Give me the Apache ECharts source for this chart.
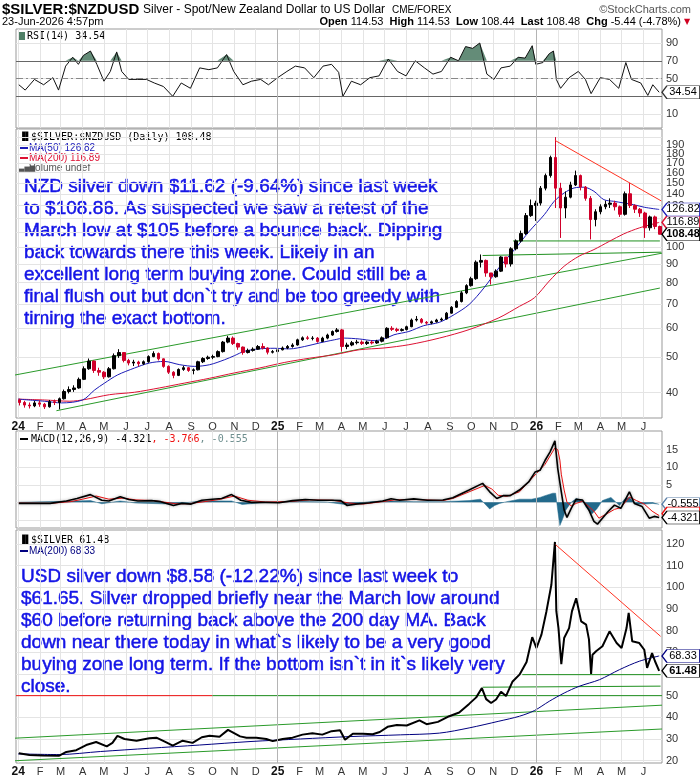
<!doctype html>
<html>
<head>
<meta charset="utf-8">
<title>$SILVER:$NZDUSD</title>
<script src="https://cdn.jsdelivr.net/npm/echarts@6.0.0/dist/echarts.min.js"></script>
<style>html,body{margin:0;padding:0;background:#fff;}</style>
</head>
<body>
<div id="chart" style="width:700px;height:780px;"></div>
<script type="text/javascript">
// ---- data ----
var weekStart = '2024-01-03';          // one candle per week (mid-week date)
var nzdFirstOpen = 38.2;
var nzdClose = [37.6,37.0,36.8,37.5,37.2,36.6,37.8,37.6,38.5,40.3,
  40.8,41.2,43.5,46.5,48.8,46.0,45.5,44.2,46.5,50.5,
  51.5,49.0,48.2,48.5,48.0,48.6,50.2,51.2,49.5,47.2,
  45.5,44.6,46.3,46.8,46.0,46.2,48.6,49.6,50.0,50.2,
  51.8,55.0,56.4,54.5,53.3,51.5,52.2,52.6,53.5,53.0,
  51.6,51.8,52.4,53.0,53.5,54.0,55.8,56.5,56.3,56.4,
  55.2,56.4,57.5,58.8,59.4,53.5,54.0,54.8,55.0,54.5,
  55.0,54.7,55.3,56.5,60.0,59.6,59.2,59.5,60.6,63.2,
  63.5,62.3,62.0,62.5,63.2,63.6,66.0,68.5,71.0,75.0,
  78.5,82.0,91.0,92.0,85.0,83.0,86.0,94.0,90.0,99.0,
  104,109,122,130,132,145,157,176,145,128,
  137,148,157,146,136,119,125,129,131,132,
  129,123,140,130,127,124,113,121,113.9,108.48];
var nzdLow = [36.9,36.4,36.2,36.5,36.6,36.1,36.4,37.0,36.0,38.3,
  39.8,40.2,41.0,43.3,46.2,45.3,44.5,43.6,44.0,46.3,
  49.8,48.4,47.5,47.3,47.2,47.6,48.3,50.0,49.0,46.8,
  45.0,43.8,44.4,45.9,45.6,44.9,46.0,48.2,49.2,49.4,
  50.0,51.5,54.6,54.0,52.4,50.8,51.2,51.8,52.4,52.5,
  50.9,51.2,51.6,52.2,52.6,53.1,53.8,55.4,55.8,55.6,
  54.8,55.0,56.0,57.2,58.4,51.8,52.6,53.6,54.2,54.0,
  54.0,54.2,54.4,54.9,56.2,59.0,58.6,58.8,59.2,60.4,
  62.6,61.8,61.4,61.5,62.2,62.8,63.4,65.8,68.2,70.6,
  74.4,78.0,81.4,88.0,83.0,79.0,82.5,85.5,88.0,88.5,
  98,103,108,121,118,130,143,155,128,106,
  120,136,147,143,134,105,114,123,127,128,
  126,121,122,128,124,121,106,111,112,108.44];
var nzdHigh = [38.5,38.0,37.6,38.0,38.1,37.5,38.2,38.3,38.8,40.8,
  41.6,41.9,44.0,47.2,49.6,49.0,46.8,45.8,47.0,51.2,
  52.6,51.6,49.5,49.2,48.9,49.0,50.6,51.9,51.5,49.6,
  47.5,45.8,46.6,47.4,47.0,46.6,48.9,50.0,50.5,50.8,
  52.2,55.4,57.2,57.0,54.8,53.5,52.8,53.2,54.0,54.6,
  53.2,52.3,52.9,53.5,54.0,54.6,56.2,57.0,57.2,57.1,
  56.8,56.9,58.0,59.2,60.1,59.8,54.8,55.4,55.8,55.6,
  55.5,55.6,55.8,57.0,60.4,60.8,60.2,60.0,61.0,63.8,
  64.8,64.0,62.8,63.0,63.7,64.2,66.5,69.0,71.6,75.8,
  79.2,83.0,92.0,95.5,92.5,85.0,87.0,94.5,94.0,100.0,
  105,111,124,135,134,147,159,178,200,150,
  142,151,162,158,147,138,127,131,134,136,
  134,130,142,150,131,128,125,122,122,114.53];

var nzdMa50 = [['2024-01-01',38.4],['2024-02-07',37.9],['2024-03-02',37.5],['2024-04-01',38.2],['2024-04-18',40.7],
  ['2024-05-02',42.5],['2024-05-20',44.7],['2024-06-13',46.7],['2024-07-04',48.2],['2024-07-25',48.7],
  ['2024-08-16',47.7],['2024-09-06',47.2],['2024-09-27',47.7],['2024-10-18',49.2],['2024-11-01',50.5],
  ['2024-11-15',51.9],['2024-12-06',52.7],['2024-12-27',52.9],['2025-01-18',52.7],['2025-02-08',53.5],
  ['2025-03-01',54.7],['2025-03-22',55.8],['2025-04-05',56.4],['2025-04-26',56.1],['2025-05-17',55.5],
  ['2025-05-31',56.1],['2025-06-14',57.6],['2025-07-05',58.8],['2025-07-26',61.0],['2025-08-17',62.3],
  ['2025-09-07',65.4],['2025-09-28',69.7],['2025-10-19',77.4],['2025-11-09',87.8],['2025-12-01',98.5],
  ['2025-12-22',110.6],['2026-01-12',122.7],['2026-01-26',133.5],['2026-02-09',140.7],['2026-02-23',145.2],
  ['2026-03-09',145.9],['2026-03-23',142.2],['2026-04-06',134.9],['2026-04-20',133.5],['2026-05-04',132.1],
  ['2026-05-18',130.7],['2026-06-02',128.6],['2026-06-23',126.82]];
var nzdMa200 = [['2024-01-01',38.4],['2024-02-07',38.2],['2024-03-14',37.9],['2024-04-04',38.3],['2024-05-09',39.5],
  ['2024-06-13',40.1],['2024-07-18',41.2],['2024-08-23',42.5],['2024-09-27',43.8],['2024-11-01',45.3],
  ['2024-12-06',46.7],['2025-01-11',48.4],['2025-02-15',49.7],['2025-03-22',50.8],['2025-04-26',52.4],
  ['2025-05-31',53.0],['2025-07-05',54.1],['2025-08-17',56.4],['2025-09-28',59.5],['2025-11-09',64.1],
  ['2025-12-08',68.9],['2025-12-29',72.7],['2026-01-19',80.8],['2026-02-09',88.7],['2026-03-02',94.5],
  ['2026-03-23',98.5],['2026-04-14',103.8],['2026-05-04',108.7],['2026-05-26',112.9],['2026-06-23',116.89]];
var nzdTrendUpper = [['2023-12-06',43.9],['2026-06-27',96.3]];
var nzdTrendLower = [['2024-02-24',35.7],['2026-06-24',77.3]];
var nzdSupportHigh = [['2025-11-29',104],['2026-06-24',104]];
var nzdSupportLow = [['2025-10-17',94.9],['2026-06-26',96.9]];
var nzdDownTrend = [['2026-01-27',196],['2026-06-26',133.8]];

var rsiData = [['2024-01-02',43],['2024-01-11',37],['2024-01-24',49],['2024-02-06',43],['2024-02-19',51],
  ['2024-02-27',37],['2024-03-08',64],['2024-03-18',74],['2024-03-26',66],['2024-04-02',76],['2024-04-12',81],
  ['2024-04-21',66],['2024-05-01',47],['2024-05-10',58],['2024-05-19',80],['2024-05-26',58],['2024-06-05',49],
  ['2024-06-17',49],['2024-06-30',49],['2024-07-11',45],['2024-07-24',41],['2024-08-06',30],['2024-08-18',45],
  ['2024-08-31',39],['2024-09-13',62],['2024-09-26',60],['2024-10-08',62],['2024-10-21',77],['2024-10-31',58],
  ['2024-11-13',43],['2024-11-25',47],['2024-12-08',49],['2024-12-19',43],['2025-01-01',51],['2025-01-14',58],
  ['2025-01-26',64],['2025-02-08',62],['2025-02-21',51],['2025-03-06',64],['2025-03-18',66],['2025-03-28',57],
  ['2025-04-03',30],['2025-04-15',47],['2025-04-28',43],['2025-05-11',51],['2025-05-24',53],['2025-06-06',72],
  ['2025-06-19',58],['2025-07-01',53],['2025-07-14',70],['2025-07-27',62],['2025-08-08',55],['2025-08-20',58],
  ['2025-09-02',74],['2025-09-13',70],['2025-09-23',86],['2025-10-03',84],['2025-10-13',90],['2025-10-23',55],
  ['2025-11-02',49],['2025-11-12',62],['2025-11-25',64],['2025-12-06',74],['2025-12-16',73],['2025-12-26',87],
  ['2025-12-31',66],['2026-01-10',68],['2026-01-19',78],['2026-01-25',81],['2026-01-29',49],['2026-02-04',39],
  ['2026-02-16',51],['2026-03-01',58],['2026-03-11',49],['2026-03-19',33],['2026-04-01',51],['2026-04-14',49],
  ['2026-04-27',39],['2026-05-07',68],['2026-05-15',49],['2026-05-28',45],['2026-06-07',31],['2026-06-14',43],
  ['2026-06-23',34.54]];

var macdData = [['2024-01-02',-0.3],['2024-02-15',-0.3],['2024-03-09',0.4],['2024-03-24',1.1],['2024-04-12',2.2],
  ['2024-04-28',0.6],['2024-05-08',0.4],['2024-05-24',1.6],['2024-06-05',0.8],['2024-06-18',0.4],['2024-07-07',0.5],
  ['2024-07-20',0.2],['2024-08-07',-0.9],['2024-08-19',-0.3],['2024-09-01',-0.5],['2024-09-16',0.6],['2024-10-01',0.9],
  ['2024-10-14',1.1],['2024-10-28',2.2],['2024-11-10',0.6],['2024-11-25',0],['2024-12-15',0],['2025-01-03',-0.1],
  ['2025-01-22',0.5],['2025-02-09',0.8],['2025-02-27',0.6],['2025-03-18',0.6],['2025-03-31',0.5],['2025-04-09',-0.9],
  ['2025-04-21',-0.5],['2025-05-11',-0.1],['2025-05-29',0.4],['2025-06-10',1.0],['2025-06-22',0.6],['2025-07-12',1.0],
  ['2025-07-31',0.6],['2025-08-22',0.65],['2025-09-05',1.3],['2025-09-28',3.5],['2025-10-17',5.4],['2025-10-27',3.0],
  ['2025-11-06',1.1],['2025-11-15',1.9],['2025-11-25',1.9],['2025-12-08',3.5],['2025-12-21',5.8],['2025-12-30',8.6],
  ['2026-01-06',9.1],['2026-01-13',11.9],['2026-01-20',14.3],['2026-01-27',17.5],['2026-01-31',9.6],['2026-02-05',3.0],
  ['2026-02-09',-2.2],['2026-02-13',-4.3],['2026-02-19',-1.7],['2026-02-26',0.9],['2026-03-07',0.65],['2026-03-16',-2.2],
  ['2026-03-23',-5.4],['2026-03-28',-6.2],['2026-04-04',-4.5],['2026-04-12',-2.6],['2026-04-21',-0.8],['2026-04-30',-1.7],
  ['2026-05-12',3.0],['2026-05-19',-0.3],['2026-05-30',-1.2],['2026-06-09',-4.5],['2026-06-16',-4.0],['2026-06-23',-4.321]];
var signalData = [['2024-01-02',-0.2],['2024-02-15',-0.3],['2024-03-15',0.2],['2024-04-01',0.9],['2024-04-20',1.8],
  ['2024-05-08',0.9],['2024-05-28',1.2],['2024-06-15',0.7],['2024-07-10',0.5],['2024-08-10',-0.4],['2024-08-28',-0.4],
  ['2024-09-20',0.2],['2024-10-10',0.8],['2024-11-01',1.8],['2024-11-20',0.6],['2024-12-15',0.1],['2025-01-15',0.2],
  ['2025-02-15',0.7],['2025-03-20',0.6],['2025-04-12',-0.2],['2025-05-01',-0.5],['2025-05-25',0.1],['2025-06-15',0.7],
  ['2025-07-15',0.8],['2025-08-22',0.5],['2025-09-05',1.1],['2025-09-28',3.0],['2025-10-20',4.8],['2025-10-30',3.8],
  ['2025-11-08',2.0],['2025-11-20',1.7],['2025-12-08',3.0],['2025-12-30',7.8],['2026-01-13',10.8],['2026-01-27',15.5],
  ['2026-01-31',15.0],['2026-02-03',12.0],['2026-02-05',8.0],['2026-02-09',3.5],['2026-02-13',0.0],['2026-02-19',-1.0],
  ['2026-02-26',-0.3],['2026-03-07',0.3],['2026-03-12',-0.5],['2026-03-23',-2.5],['2026-03-30',-4.5],['2026-04-08',-3.5],
  ['2026-04-21',-2.0],['2026-04-30',-1.5],['2026-05-12',1.5],['2026-05-22',0.5],['2026-06-02',-0.5],['2026-06-13',-2.5],
  ['2026-06-23',-3.766]];
var histData = [['2024-01-02',0],['2024-03-09',0.3],['2024-04-12',0.5],['2024-04-28',-0.4],['2024-05-24',0.4],
  ['2024-06-15',-0.2],['2024-08-07',-0.5],['2024-09-16',0.4],['2024-10-28',0.4],['2024-11-12',-0.6],['2024-12-10',-0.1],
  ['2025-01-22',0.3],['2025-03-10',0.1],['2025-04-09',-0.7],['2025-05-11',0.2],['2025-06-10',0.4],['2025-07-12',0.2],
  ['2025-08-22',0.2],['2025-09-28',0.5],['2025-10-14',0.9],['2025-10-27',-1.9],['2025-11-03',-0.9],['2025-11-10',-0.3],
  ['2025-11-20',0.2],['2025-12-08',0.9],['2025-12-25',0.9],['2026-01-06',1.4],['2026-01-13',1.9],['2026-01-24',2.6],
  ['2026-01-28',2.6],['2026-01-31',-2.3],['2026-02-03',-6.6],['2026-02-07',-4.7],['2026-02-11',-2.3],['2026-02-19',0],
  ['2026-02-26',1.1],['2026-03-07',0.5],['2026-03-12',-1.4],['2026-03-20',-3.3],['2026-03-27',-1.9],['2026-04-04',0.5],
  ['2026-04-09',0.9],['2026-04-16',1.4],['2026-04-28',-0.9],['2026-05-06',1.1],['2026-05-12',1.4],['2026-05-21',-0.5],
  ['2026-06-03',-0.5],['2026-06-14',-0.3],['2026-06-23',-0.555]];

var usdData = [['2024-01-02',23.4],['2024-01-17',22.6],['2024-02-04',22.4],['2024-02-28',22.3],['2024-03-09',24.0],
  ['2024-03-23',24.8],['2024-04-06',27.2],['2024-04-20',28.6],['2024-05-05',26.6],['2024-05-13',28.2],['2024-05-20',31.4],
  ['2024-05-30',30.0],['2024-06-16',29.2],['2024-07-04',30.3],['2024-07-14',30.6],['2024-07-28',28.4],['2024-08-06',26.9],
  ['2024-08-20',29.2],['2024-09-03',28.2],['2024-09-16',30.8],['2024-09-27',31.5],['2024-10-11',31.0],['2024-10-23',34.2],
  ['2024-11-09',31.2],['2024-11-18',30.6],['2024-12-02',30.6],['2024-12-16',30.0],['2024-12-25',29.0],['2025-01-08',30.0],
  ['2025-01-22',30.6],['2025-02-05',32.0],['2025-02-19',32.6],['2025-03-05',32.0],['2025-03-18',33.6],['2025-03-30',34.0],
  ['2025-04-06',29.6],['2025-04-17',32.4],['2025-05-01',32.4],['2025-05-15',32.2],['2025-05-25',33.2],['2025-06-05',35.6],
  ['2025-06-18',36.4],['2025-07-02',36.2],['2025-07-20',38.6],['2025-07-30',36.8],['2025-08-15',37.9],['2025-08-31',40.5],
  ['2025-09-14',42.2],['2025-09-28',46.2],['2025-10-08',49.2],['2025-10-16',53.5],['2025-10-22',48.4],['2025-10-29',46.6],
  ['2025-11-05',48.2],['2025-11-12',51.8],['2025-11-19',49.8],['2025-11-28',56.4],['2025-12-08',59.7],['2025-12-18',65.5],
  ['2025-12-26',77.0],['2026-01-01',72.0],['2026-01-08',78.2],['2026-01-15',88.9],['2026-01-22',101.2],['2026-01-27',121.0],
  ['2026-01-29',89.0],['2026-02-01',81.2],['2026-02-05',64.5],['2026-02-09',76.6],['2026-02-16',81.2],['2026-02-20',88.9],
  ['2026-02-26',95.0],['2026-03-05',84.3],['2026-03-12',82.8],['2026-03-16',76.0],['2026-03-19',60.0],['2026-03-21',68.9],
  ['2026-03-26',70.5],['2026-04-04',72.8],['2026-04-14',79.7],['2026-04-24',74.3],['2026-05-01',72.0],['2026-05-08',81.2],
  ['2026-05-11',88.2],['2026-05-16',75.1],['2026-05-26',74.3],['2026-06-02',71.2],['2026-06-06',62.8],['2026-06-13',69.7],
  ['2026-06-17',66.0],['2026-06-23',61.48]];
var usdMa200 = [['2024-01-01',23.1],['2024-02-28',22.8],['2024-04-26',24.2],['2024-07-04',25.7],['2024-09-13',27.2],
  ['2024-11-23',28.8],['2025-02-02',30.0],['2025-04-13',31.1],['2025-06-23',31.9],['2025-08-17',32.7],['2025-09-28',35.1],
  ['2025-11-09',38.2],['2025-12-08',40.5],['2025-12-29',43.1],['2026-01-19',47.4],['2026-02-09',51.2],['2026-03-02',54.3],
  ['2026-03-31',57.4],['2026-04-28',62.0],['2026-05-26',65.9],['2026-06-23',68.33]];
var usdLevelRed = [['2023-12-29',50],['2024-10-01',50]];
var usdLevel50 = [['2024-10-01',50],['2026-06-27',50]];
var usdTrendUpper = [['2023-12-06',30.0],['2026-06-27',45.6]];
var usdTrendLower = [['2023-12-06',19.6],['2026-06-27',34.6]];
var usdSupportLow = [['2025-10-17',53.9],['2026-06-25',54.4]];
var usdSupportHigh = [['2025-12-12',59.7],['2026-06-25',59.7]];
var usdDownTrend = [['2026-01-28',119.7],['2026-06-25',77.4]];

var monthLetters = ['J','F','M','A','M','J','J','A','S','O','N','D'];
var nzdTicks = [40,50,60,70,80,90,100,110,120,130,140,150,160,170,180,190,200];
var usdTicks = [20,30,40,50,60,70,80,90,100,110,120];
var rsiTicks = [10,30,50,70,90];
var macdTicks = [-5,0,5,10,15];
var macdLabels = [5,10,15];

var nzdNote = 'NZD silver down $11.62 (-9.64%) since last week\nto $108.86. As suspected we saw a retest of the\nMarch low at $105 before a bounce back. Dipping\nback towards there this week. Likely in an\nexcellent long term buying zone. Could still be a\nfinal flush out but don`t try and be too greedy with\ntiming the exact bottom.';
var usdNote = 'USD silver down $8.58 (-12.22%) since last week to\n$61.65. Silver dropped briefly near the March low around\n$60 before returning back above the 200 day MA. Back\ndown near there today in what`s likely to be a very good\nbuying zone long term. If the bottom isn`t in it`s likely very\nclose.';

// ---- helpers ----
var DAY = 86400000;
function ts(s) { var p = s.split('-'); return Date.UTC(+p[0], +p[1] - 1, +p[2]); }
function lg(v) { return Math.log10(v); }
function pts(arr) { return arr.map(function (d) { return [ts(d[0]), d[1]]; }); }
function lpts(arr) { return arr.map(function (d) { return [ts(d[0]), lg(d[1])]; }); }

var xMin = ts('2023-12-29'), xMax = ts('2026-06-27');
var monthTicks = [];
for (var yy = 2024; yy <= 2026; yy++) {
  for (var mm = 0; mm < 12; mm++) {
    var t = Date.UTC(yy, mm, 1);
    if (t >= xMin && t <= xMax) monthTicks.push(t);
  }
}
function monthFmt(v) {
  var d = new Date(v);
  var m = d.getUTCMonth();
  if (m === 0) return '{y|' + String(d.getUTCFullYear()).slice(2) + '}';
  return monthLetters[m];
}

var t0 = ts(weekStart);
var candles = nzdClose.map(function (c, i) {
  var o = i === 0 ? nzdFirstOpen : nzdClose[i - 1];
  return [t0 + i * 7 * DAY, lg(o), lg(c), lg(nzdLow[i]), lg(nzdHigh[i])];
});
// RSI part above the 70 line, filled down to 70
var rsiOver = rsiData.map(function (d) { return [ts(d[0]), Math.max(d[1], 70)]; });

function tag(y, text, border, bold) {
  return {
    coord: [xMax, y],
    symbol: 'path://M0,6 L6,0 L46,0 L46,12 L6,12 Z',
    symbolSize: [38, 13],
    symbolOffset: [19, 0],
    itemStyle: { color: '#fff', borderColor: border, borderWidth: 1 },
    label: { show: text !== '', position: 'inside', offset: [2, 0], formatter: text, color: '#000',
      fontSize: 11, fontWeight: bold ? 'bold' : 'normal', fontFamily: 'Liberation Sans' }
  };
}
function marks(list) { return { silent: true, animation: false, data: list }; }
var yearLines = {
  silent: true, symbol: 'none', animation: false, label: { show: false },
  lineStyle: { color: '#b4b4b4', width: 1, type: 'solid' },
  data: [{ xAxis: ts('2025-01-01') }, { xAxis: ts('2026-01-01') }]
};

function xAx(i, labels) {
  return {
    type: 'value', gridIndex: i, min: xMin, max: xMax,
    axisLine: { show: false },
    axisTick: { show: false, customValues: monthTicks },
    splitLine: { show: true, lineStyle: { color: '#e4e4e4', width: 1 } },
    axisLabel: { show: labels, customValues: monthTicks, formatter: monthFmt, margin: 3,
      fontSize: 11, color: '#333', fontFamily: 'Liberation Sans',
      rich: { y: { fontWeight: 'bold', fontSize: 12, color: '#111', fontFamily: 'Liberation Sans' } } }
  };
}
function yAx(i, min, max, ticks, labels, fmt) {
  return {
    type: 'value', gridIndex: i, position: 'right', min: min, max: max,
    axisLine: { show: false },
    axisTick: { show: false, customValues: ticks },
    splitLine: { show: true, lineStyle: { color: '#e4e4e4', width: 1 } },
    axisLabel: { customValues: labels, formatter: fmt, margin: 4, fontSize: 11, color: '#333', fontFamily: 'Liberation Sans' }
  };
}
function line(xi, data, color, width, extra) {
  var s = { type: 'line', xAxisIndex: xi, yAxisIndex: xi, data: data, symbol: 'none', silent: true,
    lineStyle: { color: color, width: width }, z: 3 };
  for (var k in extra) s[k] = extra[k];
  return s;
}
var noteStyle = { font: '19px "Liberation Sans"', fill: '#1414e6', stroke: '#1414e6', lineWidth: 0.5, lineHeight: 22 };

var chart = echarts.init(document.getElementById('chart'));
chart.setOption({
  animation: false,
  backgroundColor: '#fff',
  textStyle: { fontFamily: 'Liberation Sans' },
  grid: [
    { left: 16, right: 38, top: 29, height: 99, show: true, borderColor: '#999', borderWidth: 1 },
    { left: 16, right: 38, top: 129, height: 289, show: true, borderColor: '#999', borderWidth: 1 },
    { left: 16, right: 38, top: 431, height: 97, show: true, borderColor: '#999', borderWidth: 1 },
    { left: 16, right: 38, top: 530, height: 233, show: true, borderColor: '#999', borderWidth: 1 }
  ],
  xAxis: [xAx(0, false), xAx(1, true), xAx(2, false), xAx(3, true)],
  yAxis: [
    yAx(0, -5.7, 105.8, rsiTicks, rsiTicks, null),
    yAx(1, lg(34.1), lg(210.5), nzdTicks.map(lg), nzdTicks.map(lg), function (v) { return Math.round(Math.pow(10, v)); }),
    yAx(2, -7.3, 20.3, macdTicks, macdLabels, null),
    yAx(3, 18.9, 126.5, usdTicks, usdTicks, null)
  ],
  series: [
    // RSI panel
    line(0, rsiOver, 'rgba(0,0,0,0)', 0, { areaStyle: { color: '#648c78', opacity: 1, origin: 70 } }),
    line(0, pts(rsiData), '#111', 1, {
      markLine: {
        silent: true, symbol: 'none', animation: false, label: { show: false },
        data: [
          { yAxis: 70, lineStyle: { color: '#666', width: 1, type: 'solid' } },
          { yAxis: 30, lineStyle: { color: '#666', width: 1, type: 'solid' } },
          { yAxis: 50, lineStyle: { color: '#888', width: 1, type: [7, 3, 2, 3] } },
          { xAxis: ts('2025-01-01'), lineStyle: { color: '#b4b4b4', width: 1, type: 'solid' } },
          { xAxis: ts('2026-01-01'), lineStyle: { color: '#b4b4b4', width: 1, type: 'solid' } }
        ]
      },
      markPoint: marks([tag(34.54, '34.54', '#333', false)])
    }),
    // NZD price panel (log scale)
    line(1, lpts(nzdTrendUpper), '#2a9a2a', 1, { clip: false }),
    line(1, lpts(nzdTrendLower), '#2a9a2a', 1),
    line(1, lpts(nzdSupportHigh), '#1e8f1e', 1),
    line(1, lpts(nzdSupportLow), '#1e8f1e', 1),
    line(1, lpts(nzdMa200), '#dd1133', 1, { smooth: 0.3, markPoint: marks([tag(lg(116.89), '116.89', '#dd1133', false)]) }),
    line(1, lpts(nzdMa50), '#1c1cb8', 1, { smooth: 0.3, markLine: yearLines, markPoint: marks([tag(lg(126.82), '126.82', '#1c1cb8', false)]) }),
    {
      type: 'candlestick', xAxisIndex: 1, yAxisIndex: 1, data: candles, silent: true, z: 4,
      encode: { x: 0, y: [1, 2, 3, 4] },
      barWidth: 3,
      itemStyle: { color: '#000', color0: '#d0002a', borderColor: '#000', borderColor0: '#d0002a', borderWidth: 1 },
      markPoint: marks([tag(lg(108.48), '108.48', '#000', true)])
    },
    line(1, lpts(nzdDownTrend), '#ff3322', 1, { z: 5 }),
    // MACD panel
    line(2, pts(histData), '#236a8c', 0.5, { areaStyle: { color: '#236a8c', opacity: 1 }, markLine: yearLines,
      markPoint: marks([tag(-0.555, '-0.555', '#5a7fa8', false)]) }),
    line(2, pts(signalData), '#ee1111', 1, { z: 4, markPoint: marks([tag(-3.2, '', '#ee1111', false)]) }),
    line(2, pts(macdData), '#000', 1.6, { z: 5,
      lineStyle: { color: '#000', width: 1.6, shadowColor: 'rgba(0,0,0,0.35)', shadowBlur: 3 },
      markPoint: marks([tag(-4.321, '-4.321', '#000', false)]) }),
    // USD silver panel
    line(3, pts(usdLevelRed), '#ee1111', 1),
    line(3, pts(usdLevel50), '#1e8f1e', 1),
    line(3, pts(usdTrendUpper), '#2a9a2a', 1, { clip: false }),
    line(3, pts(usdTrendLower), '#2a9a2a', 1, { clip: false }),
    line(3, pts(usdSupportLow), '#1e8f1e', 1),
    line(3, pts(usdSupportHigh), '#1e8f1e', 1),
    line(3, pts(usdMa200), '#000080', 1, { smooth: 0.3, markLine: yearLines, markPoint: marks([tag(68.33, '68.33', '#000080', false)]) }),
    line(3, pts(usdData), '#000', 2, { z: 4, markPoint: marks([tag(61.48, '61.48', '#000', true)]) }),
    line(3, pts(usdDownTrend), '#ff3322', 1, { z: 5 })
  ],
  graphic: [
    { type: 'text', x: 2, y: 10, style: { text: '$SILVER:$NZDUSD', font: 'bold 15px "Liberation Sans"', fill: '#000', verticalAlign: 'middle' } },
    { type: 'text', x: 143, y: 10, style: { text: 'Silver - Spot/New Zealand Dollar to US Dollar', font: '12px "Liberation Sans"', fill: '#000', verticalAlign: 'middle' } },
    { type: 'text', x: 392, y: 10, style: { text: 'CME/FOREX', font: '10px "Liberation Sans"', fill: '#000', verticalAlign: 'middle' } },
    { type: 'text', x: 691, y: 10, style: { text: '\u00a9StockCharts.com', font: '11px "Liberation Sans"', fill: '#555', align: 'right', verticalAlign: 'middle' } },
    { type: 'text', x: 2, y: 22, style: { text: '23-Jun-2026 4:57pm', font: '11px "Liberation Sans"', fill: '#000', verticalAlign: 'middle' } },
    { type: 'text', x: 681, y: 22, style: {
      text: '{b|Open} 114.53  {b|High} 114.53  {b|Low} 108.44  {b|Last} 108.48  {b|Chg} -5.44 (-4.78%)',
      font: '11px "Liberation Sans"', fill: '#000', align: 'right', verticalAlign: 'middle',
      rich: { b: { fontWeight: 'bold', fontSize: 11, fontFamily: 'Liberation Sans' } } } },
    { type: 'text', x: 684, y: 22, style: { text: '\u25bc', font: '8px "DejaVu Sans"', fill: '#d00020', verticalAlign: 'middle' } },
    // RSI header
    { type: 'rect', shape: { x: 18, y: 32, width: 7, height: 8 }, style: { fill: '#4f7f66' } },
    { type: 'text', x: 27, y: 36, style: { text: 'RSI(14) 34.54', font: '10px "DejaVu Sans Mono"', fill: '#000', verticalAlign: 'middle' } },
    // NZD header
    { type: 'text', x: 19, y: 137, style: { text: '\u2590\u258c', font: '8px "DejaVu Sans"', fill: '#000', verticalAlign: 'middle' } },
    { type: 'text', x: 31, y: 137, style: { text: '$SILVER:$NZDUSD (Daily) 108.48', font: '10px "DejaVu Sans Mono"', fill: '#000', verticalAlign: 'middle' } },
    { type: 'rect', shape: { x: 20, y: 147, width: 8, height: 2 }, style: { fill: '#1c1cb8' } },
    { type: 'text', x: 29, y: 148, style: { text: 'MA(50) 126.82', font: '10px "Liberation Sans"', fill: '#1c1cb8', verticalAlign: 'middle' } },
    { type: 'rect', shape: { x: 20, y: 157, width: 8, height: 2 }, style: { fill: '#dd1133' } },
    { type: 'text', x: 29, y: 158, style: { text: 'MA(200) 116.89', font: '10px "Liberation Sans"', fill: '#dd1133', verticalAlign: 'middle' } },
    { type: 'text', x: 19, y: 168, style: { text: '\u2583\u2585\u2586', font: '7px "DejaVu Sans"', fill: '#555', verticalAlign: 'middle' } },
    { type: 'text', x: 29, y: 168, style: { text: 'Volume undef', font: '10px "Liberation Sans"', fill: '#555', verticalAlign: 'middle' } },
    { type: 'text', x: 24, y: 176, style: Object.assign({ text: nzdNote }, noteStyle) },
    // MACD header
    { type: 'rect', shape: { x: 20, y: 438, width: 8, height: 2 }, style: { fill: '#000' } },
    { type: 'text', x: 31, y: 439, style: {
      text: 'MACD(12,26,9) -4.321{r|, -3.766}{g|, -0.555}', font: '10px "DejaVu Sans Mono"', fill: '#000', verticalAlign: 'middle',
      rich: { r: { fill: '#ee1111', fontFamily: 'DejaVu Sans Mono', fontSize: 10 }, g: { fill: '#6f8f8f', fontFamily: 'DejaVu Sans Mono', fontSize: 10 } } } },
    // USD header
    { type: 'text', x: 19, y: 540, style: { text: '\u2590\u258c', font: '8px "DejaVu Sans"', fill: '#000', verticalAlign: 'middle' } },
    { type: 'text', x: 31, y: 540, style: { text: '$SILVER 61.48', font: '10px "DejaVu Sans Mono"', fill: '#000', verticalAlign: 'middle' } },
    { type: 'rect', shape: { x: 20, y: 550, width: 8, height: 2 }, style: { fill: '#000080' } },
    { type: 'text', x: 29, y: 551, style: { text: 'MA(200) 68.33', font: '10px "Liberation Sans"', fill: '#000080', verticalAlign: 'middle' } },
    { type: 'text', x: 21, y: 566, style: Object.assign({ text: usdNote }, noteStyle) }
  ]
});
</script>
</body>
</html>
